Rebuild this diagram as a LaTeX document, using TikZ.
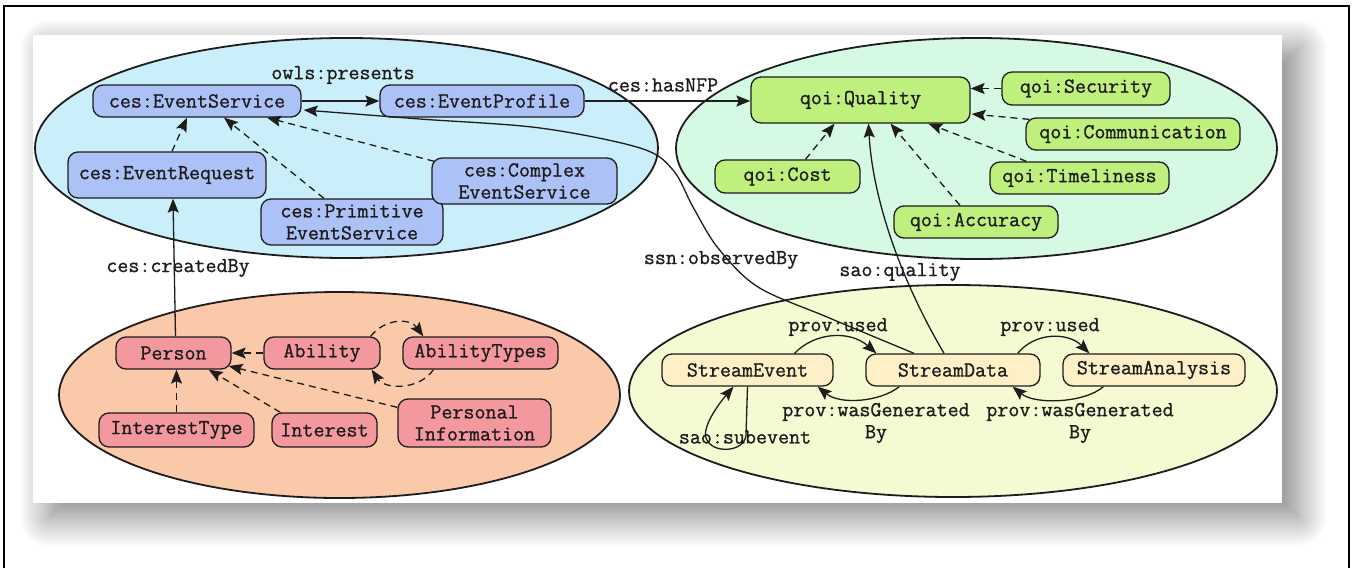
\documentclass[tikz,border=0pt]{standalone}
\usepackage{fontspec}
\newfontfamily\diagfont{Latin Modern Mono}[FakeBold=1.0]
\usetikzlibrary{arrows.meta,calc,shadows.blur}

% group backgrounds
\definecolor{svcarea}{RGB}{203,238,251}
\definecolor{qoiarea}{RGB}{214,249,228}
\definecolor{userarea}{RGB}{250,201,170}
\definecolor{streamarea}{RGB}{246,250,211}
% concept boxes
\definecolor{svcbox}{RGB}{172,193,246}
\definecolor{qoibox}{RGB}{191,240,126}
\definecolor{userbox}{RGB}{244,152,160}
\definecolor{streambox}{RGB}{253,240,199}
\definecolor{ink}{RGB}{30,28,28}

\begin{document}
\begin{tikzpicture}[x=1pt,y=-1pt,
  every node/.style={font=\fontsize{21.4}{22}\selectfont\diagfont, text=ink},
  concept/.style={rounded corners=10pt, draw=ink, line width=1.3pt,
    inner sep=0pt, align=center},
  svc/.style={concept, fill=svcbox},
  qoi/.style={concept, fill=qoibox},
  usr/.style={concept, fill=userbox},
  strm/.style={concept, fill=streambox},
  group/.style={draw=ink, line width=1.8pt},
  lbl/.style={inner sep=0pt, align=center},
  link/.style={draw=ink, line width=1.3pt,
    -{Stealth[length=14pt,width=11pt,inset=2.5pt]}},
  sublink/.style={link, dash pattern=on 7pt off 5pt},
]
\useasboundingbox (0,0) rectangle (1352,568);

% outer frame
\draw[line width=2pt, black] (4,568) -- (4,6) -- (1349,6) -- (1349,568);

% white card with its drop shadow
\fill[white, blur shadow={shadow xshift=16pt, shadow yshift=-14pt,
  shadow blur radius=30pt, shadow blur steps=40, shadow opacity=50}]
  (33,35) rectangle (1282,503);

% group ellipses
\draw[group, fill=svcarea]    (346.5,148) ellipse [x radius=311.5pt, y radius=110pt];
\draw[group, fill=qoiarea]    (976.5,148.5) ellipse [x radius=300.5pt, y radius=110.5pt];
\draw[group, fill=userarea]   (339.5,395) ellipse [x radius=280.5pt, y radius=103pt];
\draw[group, fill=streamarea] (953,391) ellipse [x radius=324pt, y radius=106pt];

% event services
\node[svc, minimum width=208pt, minimum height=32pt] (ES)  at (197,101)   {ces:EventService};
\node[svc, minimum width=204pt, minimum height=32pt] (EP)  at (482,101)   {ces:EventProfile};
\node[svc, minimum width=198pt, minimum height=46pt] (ER)  at (167,175)   {ces:EventRequest};
\node[svc, minimum width=182pt, minimum height=46pt] (PES) at (352,222)   {ces:Primitive\\EventService};
\node[svc, minimum width=185pt, minimum height=46pt] (CES) at (524.5,181) {ces:Complex\\EventService};

% quality of information
\node[qoi, minimum width=219pt, minimum height=46pt] (Q)    at (860.5,100)  {qoi:Quality};
\node[qoi, minimum width=168pt, minimum height=33pt] (Sec)  at (1086,88.5)  {qoi:Security};
\node[qoi, minimum width=214pt, minimum height=32pt] (Comm) at (1133,134)   {qoi:Communication};
\node[qoi, minimum width=179pt, minimum height=32pt] (Time) at (1079.5,178) {qoi:Timeliness};
\node[qoi, minimum width=145pt, minimum height=33pt] (Cost) at (787.5,176.5){qoi:Cost};
\node[qoi, minimum width=164pt, minimum height=32pt] (Acc)  at (976,222)    {qoi:Accuracy};

% user profile
\node[usr, minimum width=115pt, minimum height=32pt] (Person)   at (173.5,353) {Person};
\node[usr, minimum width=116pt, minimum height=32pt] (Ability)  at (322,353)   {Ability};
\node[usr, minimum width=155pt, minimum height=32pt] (AT)       at (480.5,353) {AbilityTypes};
\node[usr, minimum width=155pt, minimum height=34pt] (IT)       at (176.5,430) {InterestType};
\node[usr, minimum width=105pt, minimum height=34pt] (Interest) at (324.5,430) {Interest};
\node[usr, minimum width=153pt, minimum height=48pt] (PI)       at (474.5,423) {Personal\\Information};

% streams
\node[strm, minimum width=171pt, minimum height=32pt] (SE) at (747.5,370) {StreamEvent};
\node[strm, minimum width=174pt, minimum height=32pt] (SD) at (953,370)   {StreamData};
\node[strm, minimum width=182pt, minimum height=32pt] (SA) at (1154,370)  {StreamAnalysis};

% edge labels
\node[lbl] (lPres)   at (343,75)   {owls:presents};
\node[lbl] (lNFP)    at (663,85)   {ces:hasNFP};
\node[lbl] (lCreate) at (178,268)  {ces:createdBy};
\node[lbl] (lObs)    at (721,260)  {ssn:observedBy};
\node[lbl] (lQual)   at (900,272)  {sao:quality};
\node[lbl] (lUsedA)  at (838,327)  {prov:used};
\node[lbl] (lUsedB)  at (1050,327) {prov:used};
\node[lbl] (lGenA)   at (876,423)  {prov:wasGenerated\\By};
\node[lbl] (lGenB)   at (1080,423) {prov:wasGenerated\\By};
\node[lbl] (lSub)    at (745,437)  {sao:subevent};

% service relations
\draw[link] (ES.east) -- (EP.west);
\draw[sublink] ($(ER.north)+(5,0)$) -- ($(ES.south)+(-10,0)$);
\draw[sublink] ($(PES.north)+(-28,0)$) -- ($(ES.south)+(27,0)$);
\draw[sublink] ($(CES.north west)+(3,4)$) -- ($(ES.south)+(70,0)$);
\draw[link] ($(Person.north)+(2,0)$) -- ($(ER.south)+(6,0)$);
\draw[link] (EP.east) -- (EP.east -| Q.west);

% observedBy runs from the stream data back to the service
\coordinate (obsFrom) at ($(SD.north)+(-39,0)$);
\coordinate (obsTo)   at ($(ES.east)+(2,9)$);
\draw[link] plot[smooth, tension=0.55] coordinates
  {(obsFrom) (827,317) (758,287) (718,248) (693,207) (673,170) (640,148) (540,128) (420,119) (obsTo)};
\draw[link] ($(SD.north)+(-9,0)$) .. controls (895,270) and (872,190) .. ($(Q.south)+(8,0)$);

% quality dimensions
\draw[sublink] (Sec.west) -- (Sec.west -| Q.east);
\draw[sublink] ($(Comm.north west)+(4,2)$) -- ($(Q.east)+(1,14)$);
\draw[sublink] ($(Time.north)+(-53,0)$) -- ($(Q.south)+(68,0)$);
\draw[sublink] ($(Acc.north)+(-16,0)$) -- ($(Q.south)+(30,0)$);
\draw[sublink] ($(Cost.north)+(18,0)$) -- ($(Q.south)+(-26,0)$);

% user profile relations
\draw[sublink] (Ability.west) -- (Person.east);
\draw[sublink] ($(Ability.north east)+(-10,0)$) .. controls (385,318) and (410,318) .. ($(AT.north west)+(21,0)$);
\draw[sublink] ($(AT.south west)+(31,0)$) .. controls (420,390) and (385,390) .. ($(Ability.south east)+(-9,0)$);
\draw[sublink] (IT.north) -- (IT.north |- Person.south);
\draw[sublink] ($(Interest.north west)+(9,0)$) -- ($(Person.south east)+(-23,0)$);
\draw[sublink] ($(PI.north west)+(0,9)$) -- ($(Person.east)+(-3,13)$);

% stream provenance
\draw[link] ($(SE.north)+(47,0)$) .. controls (815,332) and (850,330) .. ($(SD.north west)+(11,0)$);
\draw[link] ($(SD.south west)+(34,0)$) .. controls (880,402) and (840,405) .. ($(SE.south east)+(-16,0)$);
\draw[link] ($(SD.north east)+(-23,0)$) .. controls (1035,332) and (1068,332) .. ($(SA.north west)+(27,0)$);
\draw[link] ($(SA.south west)+(41,0)$) .. controls (1085,403) and (1035,405) .. ($(SD.south east)+(-28,0)$);
\draw[link] (SE.south) -- (746,435) .. controls (745,452) and (712,455) .. (706,438)
  .. controls (702,425) and (722,400) .. ($(SE.south)+(-14,0)$);
\end{tikzpicture}
\end{document}
